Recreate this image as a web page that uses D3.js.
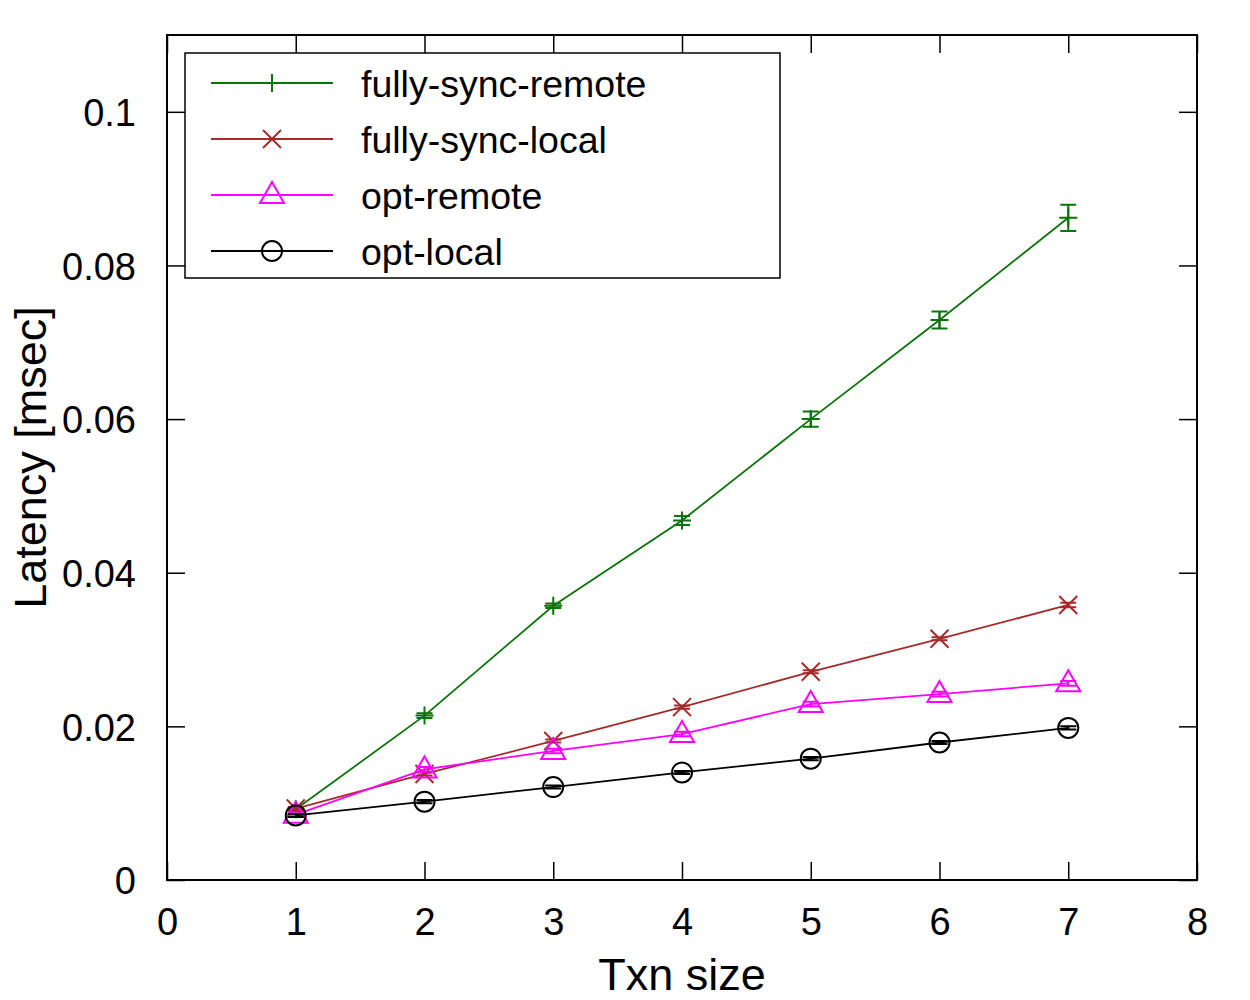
<!DOCTYPE html>
<html>
<head>
<meta charset="utf-8">
<script src="https://cdn.jsdelivr.net/npm/d3@7"></script>
<style>
  body { margin: 0; background: #fff; }
  text { font-family: "Liberation Sans", Arial, sans-serif; fill: #000; }
</style>
</head>
<body>
<div id="chart"></div>
<script>
// datos
const txnSizes = [1, 2, 3, 4, 5, 6, 7];

const fullySyncRemote = [0.0092, 0.0214, 0.0357, 0.0468, 0.0600, 0.0729, 0.0862];
const fullySyncRemoteErr = [0.0002, 0.0003, 0.0003, 0.0006, 0.0010, 0.0011, 0.0017];

const fullySyncLocal = [0.0093, 0.0138, 0.0181, 0.0225, 0.0271, 0.0314, 0.0358];
const fullySyncLocalErr = [0.0002, 0.0002, 0.0002, 0.0002, 0.0002, 0.0002, 0.0003];

const optRemote = [0.0085, 0.0144, 0.0168, 0.0190, 0.0229, 0.0242, 0.0256];
const optRemoteErr = [0.0002, 0.0003, 0.0003, 0.0003, 0.0003, 0.0003, 0.0003];

const optLocal = [0.0084, 0.0102, 0.0121, 0.0140, 0.0158, 0.0179, 0.0198];
const optLocalErr = [0.0002, 0.0002, 0.0002, 0.0002, 0.0002, 0.0002, 0.0002];

const xTicks = [0, 1, 2, 3, 4, 5, 6, 7, 8];
const yTicks = [0, 0.02, 0.04, 0.06, 0.08, 0.1];
const yTickLabels = ["0", "0.02", "0.04", "0.06", "0.08", "0.1"];

const series = [
    { name: "fully-sync-remote", values: fullySyncRemote, err: fullySyncRemoteErr, color: "#0a730a", marker: "plus" },
    { name: "fully-sync-local", values: fullySyncLocal, err: fullySyncLocalErr, color: "#a52a2a", marker: "cross" },
    { name: "opt-remote", values: optRemote, err: optRemoteErr, color: "#ff00ff", marker: "triangle" },
    { name: "opt-local", values: optLocal, err: optLocalErr, color: "#000000", marker: "circle" }
];

const width = 1250, height = 1000;
const margin = { left: 167, right: 53, top: 35, bottom: 120 };

const svg = d3.select("#chart").append("svg")
    .attr("width", width)
    .attr("height", height);

const x = d3.scaleLinear().domain([0, 8]).range([margin.left, width - margin.right]);
const y = d3.scaleLinear().domain([0, 0.11]).range([height - margin.bottom, margin.top]);

const tickLen = 18;

// ejes con marcas hacia dentro en los cuatro lados
svg.append("g")
    .attr("transform", `translate(0,${y(0)})`)
    .call(d3.axisBottom(x).tickValues(xTicks).tickSizeInner(-tickLen).tickSizeOuter(0).tickPadding(28))
    .call(g => g.select(".domain").remove())
    .call(g => g.selectAll("text").attr("font-size", 38).attr("dy", "0.71em"));

svg.append("g")
    .attr("transform", `translate(0,${y(0.11)})`)
    .call(d3.axisTop(x).tickValues(xTicks).tickSizeInner(-tickLen).tickSizeOuter(0).tickFormat(""))
    .call(g => g.select(".domain").remove());

svg.append("g")
    .attr("transform", `translate(${x(0)},0)`)
    .call(d3.axisLeft(y).tickValues(yTicks).tickSizeInner(-tickLen).tickSizeOuter(0).tickPadding(31)
        .tickFormat((d, i) => yTickLabels[i]))
    .call(g => g.select(".domain").remove())
    .call(g => g.selectAll("text").attr("font-size", 38).attr("dy", "0.36em"));

svg.append("g")
    .attr("transform", `translate(${x(8)},0)`)
    .call(d3.axisRight(y).tickValues(yTicks).tickSizeInner(-tickLen).tickSizeOuter(0).tickFormat(""))
    .call(g => g.select(".domain").remove());

svg.selectAll(".tick line").attr("stroke", "#000").attr("stroke-width", 1.5);

// marco
svg.append("rect")
    .attr("x", x(0)).attr("y", y(0.11))
    .attr("width", x(8) - x(0)).attr("height", y(0) - y(0.11))
    .attr("fill", "none").attr("stroke", "#000").attr("stroke-width", 2);

// etiquetas de los ejes
svg.append("text")
    .attr("x", (x(0) + x(8)) / 2).attr("y", 990)
    .attr("text-anchor", "middle").attr("font-size", 45)
    .text("Txn size");

svg.append("text")
    .attr("transform", `translate(46,${(y(0) + y(0.11)) / 2}) rotate(-90)`)
    .attr("text-anchor", "middle").attr("font-size", 45)
    .text("Latency [msec]");

function drawMarker(g, type, cx, cy, color) {
    if (type === "plus") {
        g.append("path").attr("d", `M${cx - 9},${cy}H${cx + 9}M${cx},${cy - 9}V${cy + 9}`)
            .attr("stroke", color).attr("stroke-width", 2).attr("fill", "none");
    } else if (type === "cross") {
        g.append("path").attr("d", `M${cx - 9},${cy - 9}L${cx + 9},${cy + 9}M${cx - 9},${cy + 9}L${cx + 9},${cy - 9}`)
            .attr("stroke", color).attr("stroke-width", 2).attr("fill", "none");
    } else if (type === "triangle") {
        g.append("path").attr("d", `M${cx},${cy - 13}L${cx + 12},${cy + 8}L${cx - 12},${cy + 8}Z`)
            .attr("stroke", color).attr("stroke-width", 2).attr("fill", "none");
    } else {
        g.append("circle").attr("cx", cx).attr("cy", cy).attr("r", 10)
            .attr("stroke", color).attr("stroke-width", 2).attr("fill", "none");
    }
}

const line = d3.line().x(d => x(d[0])).y(d => y(d[1]));

series.forEach(s => {
    const pts = txnSizes.map((t, i) => [t, s.values[i], s.err[i]]);
    const g = svg.append("g");
    g.append("path").datum(pts).attr("d", line)
        .attr("fill", "none").attr("stroke", s.color).attr("stroke-width", 1.8);
    pts.forEach(p => {
        const cx = x(p[0]);
        const y1 = y(p[1] + p[2]), y2 = y(p[1] - p[2]);
        g.append("path").attr("d", `M${cx},${y1}V${y2}M${cx - 8},${y1}H${cx + 8}M${cx - 8},${y2}H${cx + 8}`)
            .attr("stroke", s.color).attr("stroke-width", 2).attr("fill", "none");
        drawMarker(g, s.marker, cx, y(p[1]), s.color);
    });
});

// leyenda
const legend = svg.append("g");
legend.append("rect")
    .attr("x", 185).attr("y", 53).attr("width", 595).attr("height", 225)
    .attr("fill", "#fff").attr("stroke", "#000").attr("stroke-width", 1.5);

series.forEach((s, i) => {
    const ly = 83 + i * 56;
    legend.append("line")
        .attr("x1", 211).attr("x2", 333).attr("y1", ly).attr("y2", ly)
        .attr("stroke", s.color).attr("stroke-width", 1.8);
    drawMarker(legend, s.marker, 272, ly, s.color);
    legend.append("text")
        .attr("x", 361).attr("y", ly).attr("dy", "0.36em")
        .attr("font-size", 37.5)
        .text(s.name);
});
</script>
</body>
</html>
